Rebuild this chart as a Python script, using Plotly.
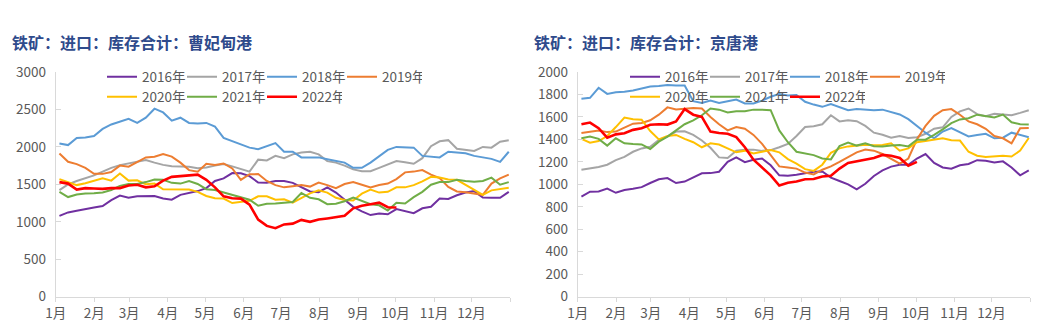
import numpy as np
import pandas as pd
import plotly.graph_objects as go

years = ["2016年", "2017年", "2018年", "2019年", "2020年", "2021年", "2022年"]
colors = ["#7030A0", "#A5A5A5", "#5B9BD5", "#ED7D31", "#FFC000", "#70AD47", "#FF0000"]
widths = [2, 2, 2, 2, 2, 2, 2.6]

month_ticks = ["1月", "2月", "3月", "4月", "5月", "6月", "7月", "8月", "9月", "10月", "11月", "12月", ""]

titles = ["铁矿：进口：库存合计：曹妃甸港", "铁矿：进口：库存合计：京唐港"]

# 曹妃甸港 weekly inventory (万吨)
cfd_2016 = [1080, 1125, 1148, 1165, 1190, 1210, 1290, 1350, 1320, 1340, 1340, 1345, 1310, 1295, 1360, 1380, 1410, 1450,
            1545, 1580, 1650, 1648, 1610, 1525, 1520, 1545, 1545, 1520, 1465, 1405, 1395, 1460, 1390, 1290, 1200, 1140,
            1090, 1110, 1100, 1170, 1140, 1115, 1180, 1200, 1310, 1305, 1355, 1390, 1410, 1325, 1320, 1320, 1400]
cfd_2017 = [1423, 1500, 1545, 1580, 1620, 1670, 1720, 1757, 1777, 1795, 1825, 1790, 1760, 1742, 1735, 1735, 1715, 1725,
            1750, 1770, 1740, 1700, 1670, 1830, 1820, 1880, 1850, 1900, 1925, 1935, 1900, 1810, 1790, 1750, 1700, 1675,
            1675, 1720, 1770, 1810, 1795, 1775, 1850, 2010, 2075, 2090, 1975, 1960, 1945, 2000, 1990, 2070, 2090]
cfd_2018 = [2046, 2024, 2120, 2126, 2145, 2240, 2300, 2340, 2375, 2320, 2390, 2510, 2460, 2350, 2390, 2320, 2313, 2320,
            2270, 2120, 2080, 2030, 1990, 1970, 2010, 2050, 1935, 1935, 1860, 1860, 1860, 1835, 1810, 1790, 1720, 1720,
            1790, 1880, 1960, 2000, 1995, 1990, 1880, 1865, 1860, 1935, 1925, 1915, 1880, 1860, 1840, 1800, 1935]
cfd_2019 = [1913, 1801, 1770, 1720, 1640, 1640, 1665, 1750, 1735, 1800, 1860, 1868, 1905, 1870, 1790, 1690, 1668, 1775,
            1760, 1779, 1712, 1560, 1635, 1637, 1545, 1490, 1460, 1475, 1490, 1470, 1525, 1490, 1450, 1505, 1530, 1495,
            1460, 1490, 1510, 1570, 1660, 1670, 1690, 1630, 1585, 1465, 1405, 1395, 1375, 1360, 1510, 1580, 1630]
cfd_2020 = [1570, 1530, 1490, 1515, 1545, 1580, 1550, 1645, 1550, 1555, 1500, 1510, 1435, 1430, 1430, 1430, 1400, 1345,
            1315, 1310, 1250, 1265, 1280, 1340, 1340, 1295, 1300, 1255, 1320, 1380, 1420, 1390, 1320, 1290, 1285, 1375,
            1430, 1390, 1400, 1460, 1460, 1490, 1540, 1600, 1590, 1565, 1560, 1490, 1420, 1360, 1420, 1440, 1455]
cfd_2021 = [1400, 1330, 1365, 1378, 1380, 1392, 1425, 1480, 1505, 1505, 1530, 1565, 1560, 1520, 1510, 1545, 1505, 1435,
            1425, 1390, 1360, 1325, 1295, 1215, 1240, 1245, 1255, 1265, 1385, 1320, 1300, 1235, 1240, 1275, 1325, 1275,
            1235, 1220, 1150, 1255, 1245, 1330, 1400, 1495, 1530, 1530, 1560, 1545, 1535, 1545, 1590, 1495, 1530]
cfd_2022 = [1530, 1510, 1430, 1450, 1445, 1440, 1450, 1450, 1485, 1495, 1460, 1475, 1550, 1600, 1610, 1620, 1630, 1560,
            1460, 1340, 1315, 1310, 1230, 1030, 945, 915, 965, 975, 1025, 1000, 1030, 1045, 1060, 1080, 1180, 1215,
            1235, 1255, 1195, 1190]

# 京唐港 weekly inventory (万吨)
jt_2016 = [890, 935, 937, 962, 925, 950, 960, 975, 1012, 1045, 1056, 1012, 1025, 1060, 1098, 1100, 1112, 1200, 1240,
           1198, 1219, 1230, 1170, 1080, 1077, 1085, 1098, 1113, 1115, 1060, 1030, 1000, 955, 1005, 1075, 1125, 1158,
           1175, 1175, 1230, 1270, 1190, 1150, 1140, 1170, 1181, 1215, 1210, 1195, 1205, 1150, 1080, 1124]
jt_2017 = [1130, 1140, 1155, 1175, 1215, 1245, 1290, 1320, 1335, 1395, 1425, 1470, 1472, 1440, 1390, 1325, 1240, 1234,
           1300, 1309, 1309, 1298, 1305, 1330, 1360, 1430, 1510, 1517, 1535, 1615, 1560, 1570, 1562, 1520, 1460, 1442,
           1415, 1430, 1413, 1420, 1450, 1495, 1508, 1600, 1650, 1675, 1625, 1606, 1628, 1621, 1615, 1636, 1660]
jt_2018 = [1762, 1770, 1860, 1805, 1820, 1824, 1835, 1855, 1870, 1875, 1885, 1880, 1880, 1740, 1725, 1745, 1725, 1740,
           1755, 1720, 1720, 1745, 1780, 1805, 1790, 1795, 1735, 1710, 1690, 1715, 1685, 1660, 1670, 1662, 1660, 1665,
           1645, 1622, 1580, 1520, 1460, 1410, 1470, 1500, 1460, 1427, 1440, 1450, 1410, 1415, 1460, 1440, 1420]
jt_2019 = [1457, 1470, 1480, 1465, 1470, 1505, 1540, 1547, 1570, 1620, 1685, 1667, 1672, 1680, 1675, 1600, 1535, 1480,
           1510, 1495, 1440, 1360, 1260, 1160, 1150, 1140, 1105, 1088, 1130, 1160, 1200, 1245, 1285, 1310, 1300, 1270,
           1230, 1185, 1230, 1400, 1520, 1610, 1660, 1670, 1620, 1560, 1535, 1495, 1430, 1410, 1365, 1500, 1502]
jt_2020 = [1404, 1370, 1385, 1430, 1510, 1595, 1580, 1576, 1475, 1400, 1430, 1440, 1405, 1375, 1330, 1365, 1355, 1320,
           1285, 1300, 1275, 1290, 1305, 1285, 1225, 1185, 1135, 1120, 1175, 1280, 1320, 1338, 1345, 1352, 1348, 1350,
           1365, 1300, 1320, 1375, 1385, 1395, 1410, 1392, 1390, 1290, 1255, 1243, 1250, 1255, 1248, 1300, 1413]
jt_2021 = [1410, 1425, 1405, 1345, 1410, 1365, 1359, 1355, 1315, 1380, 1425, 1480, 1535, 1570, 1615, 1675, 1665, 1640,
           1650, 1650, 1665, 1665, 1660, 1480, 1375, 1290, 1275, 1260, 1230, 1222, 1340, 1372, 1345, 1365, 1340, 1338,
           1345, 1350, 1338, 1398, 1398, 1440, 1490, 1545, 1578, 1588, 1620, 1610, 1595, 1621, 1552, 1535, 1532]
jt_2022 = [1535, 1550, 1500, 1415, 1445, 1455, 1485, 1500, 1530, 1535, 1532, 1560, 1670, 1620, 1600, 1470, 1457, 1450,
           1420, 1330, 1220, 1150, 1080, 990, 1015, 1025, 1045, 1047, 1070, 1077, 1140, 1190, 1205, 1225, 1235, 1262,
           1255, 1235, 1165, 1200]

cfd_series = [cfd_2016, cfd_2017, cfd_2018, cfd_2019, cfd_2020, cfd_2021, cfd_2022]
jt_series = [jt_2016, jt_2017, jt_2018, jt_2019, jt_2020, jt_2021, jt_2022]

# weekly observation dates mapped onto a common calendar year
base = pd.Timestamp("2022-01-01")
week_days = np.linspace(3, 364, 53)
week_dates = [base + pd.Timedelta(days=float(d)) for d in week_days]
month_starts = [pd.Timestamp(2022, m, 1) for m in range(1, 13)] + [pd.Timestamp(2023, 1, 1)]

W, H = 1043, 326
fig = go.Figure()

legend_names = [("legend", "legend2"), ("legend3", "legend4")]
for k, series in enumerate([cfd_series, jt_series]):
    xa = "x" if k == 0 else "x2"
    ya = "y" if k == 0 else "y2"
    for i, (name, vals) in enumerate(zip(years, series)):
        fig.add_trace(go.Scatter(
            x=week_dates[:len(vals)], y=vals, name=name, mode="lines",
            line=dict(color=colors[i], width=widths[i]),
            xaxis=xa, yaxis=ya,
            legend=legend_names[k][0] if i < 4 else legend_names[k][1],
            hoverinfo="skip",
        ))

tick_font = dict(family="Noto Sans CJK SC, Microsoft YaHei, sans-serif", size=13.5, color="#595959")
axis_col = "#D9D9D9"
ydom = [29.3 / H, 254 / H]

common_x = dict(type="date", range=[month_starts[0], month_starts[-1]], tickvals=month_starts, ticktext=month_ticks,
                showgrid=False, showline=True, linecolor=axis_col, linewidth=1, ticks="outside", ticklen=4,
                tickcolor=axis_col, tickfont=tick_font, zeroline=False, automargin=False)
common_y = dict(showgrid=False, showline=True, linecolor=axis_col, linewidth=1, ticks="inside", ticklen=5,
                tickcolor=axis_col, tickfont=tick_font, zeroline=False, automargin=False, domain=ydom,
                ticklabelstandoff=6)

fig.update_layout(
    width=W, height=H, template="none",
    margin=dict(l=0, r=0, t=0, b=0, autoexpand=False),
    paper_bgcolor="white", plot_bgcolor="white",
    xaxis=dict(common_x, domain=[55.7 / W, 510 / W], anchor="y"),
    xaxis2=dict(common_x, domain=[577.7 / W, 1030 / W], anchor="y2"),
    yaxis=dict(common_y, range=[0, 3000], dtick=500, anchor="x"),
    yaxis2=dict(common_y, range=[0, 2000], dtick=200, anchor="x2"),
    showlegend=True,
)

leg_font = dict(family="Noto Sans CJK SC, Microsoft YaHei, sans-serif", size=13.5, color="#595959")
leg_common = dict(orientation="h", itemwidth=30, entrywidth=35, entrywidthmode="pixels", font=leg_font,
                  bgcolor="rgba(0,0,0,0)", xanchor="left", yanchor="middle", itemclick=False, tracegroupgap=0)
fig.update_layout(
    legend=dict(leg_common, x=102 / W, y=(H - 77) / H),
    legend2=dict(leg_common, x=102 / W, y=(H - 97) / H),
    legend3=dict(leg_common, x=625 / W, y=(H - 77) / H),
    legend4=dict(leg_common, x=625 / W, y=(H - 97) / H),
)

title_font = dict(family="Noto Sans CJK SC, Microsoft YaHei, sans-serif", size=16, color="#2F4B8C", weight="bold")
for t, xpx in zip(titles, [10, 532]):
    fig.add_annotation(text=t, xref="paper", yref="paper", x=xpx / W, y=(H - 42) / H,
                       xanchor="left", yanchor="middle", showarrow=False, font=title_font)

fig.write_html("out.html")
